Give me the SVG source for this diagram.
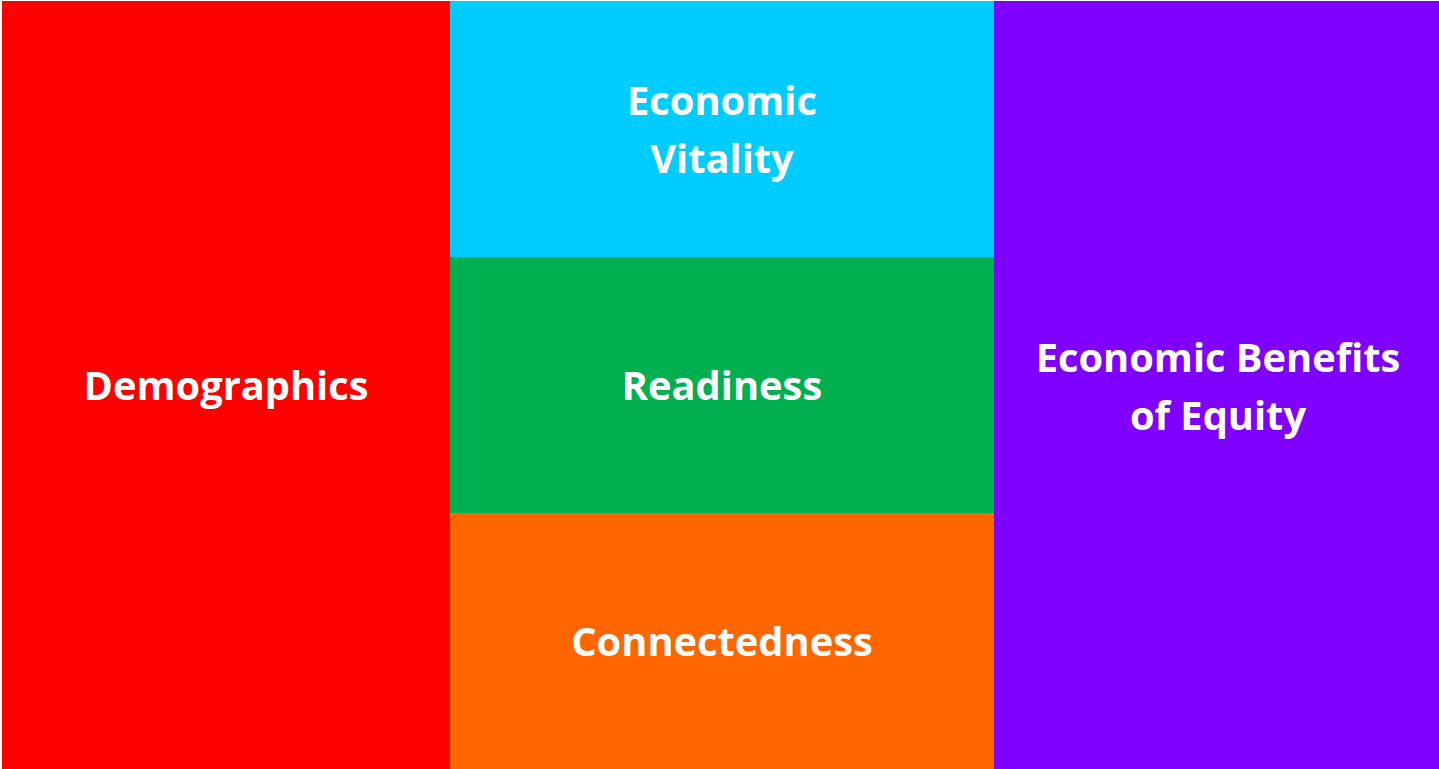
<svg xmlns="http://www.w3.org/2000/svg" width="1439" height="769" viewBox="0 0 1439 769">
<style>
.t{font-family:"Open Sans","Liberation Sans",sans-serif;font-weight:bold;font-size:39.8px;fill:#fff;text-anchor:middle}
</style>
<rect x="0" y="0" width="1439" height="769" fill="#fff"/>
<g id="demographics"><rect x="2" y="1" width="448" height="768" fill="#ff0000"/><text class="t" x="226" y="400">Demographics</text></g>
<g id="economic-vitality"><rect x="450" y="1" width="544" height="256" fill="#00ccff"/><text class="t" x="722" y="115">Economic</text><text class="t" x="722" y="173">Vitality</text></g>
<g id="readiness"><rect x="450" y="257" width="544" height="256" fill="#00b050"/><text class="t" x="722" y="400">Readiness</text></g>
<g id="connectedness"><rect x="450" y="513" width="544" height="256" fill="#ff6600"/><text class="t" x="722" y="656">Connectedness</text></g>
<g id="economic-benefits"><rect x="994" y="1" width="445" height="768" fill="#8000ff"/><text class="t" x="1218" y="372">Economic Benefits</text><text class="t" x="1218" y="430">of Equity</text></g>
<g id="connectors"/>
</svg>
